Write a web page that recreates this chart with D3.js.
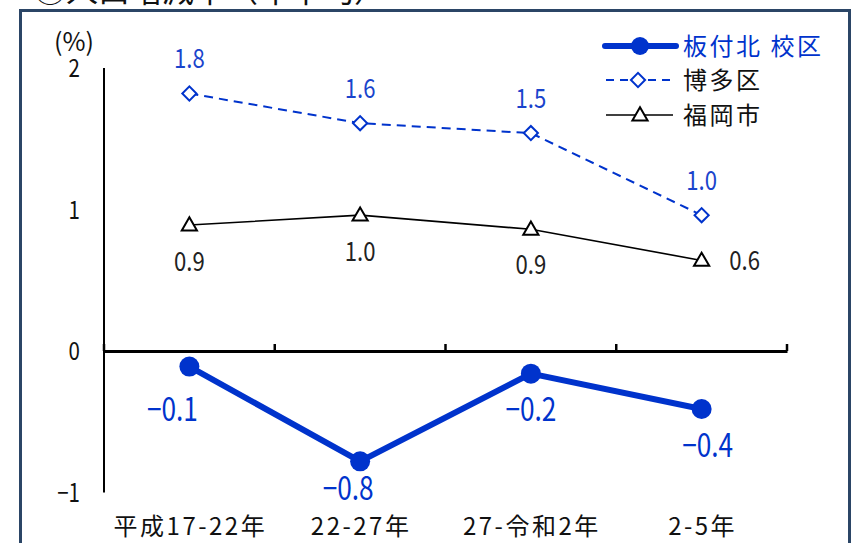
<!DOCTYPE html>
<html>
<head>
<meta charset="utf-8">
<script src="https://cdn.jsdelivr.net/npm/d3@7"></script>
<style>
  html, body { margin: 0; padding: 0; background: #fff; }
  svg { display: block; }
  text { font-family: "Noto Sans CJK JP", "Noto Sans", sans-serif; }
</style>
</head>
<body>
<div id="chart"></div>
<script>
// population growth rate (annual average), 3 series over 4 periods

const categories = ["平成17-22年", "22-27年", "27-令和2年", "2-5年"];
const seriesNames = ["板付北 校区", "博多区", "福岡市"];
const itazukeValues = [-0.11, -0.78, -0.16, -0.41];
const hakataValues = [1.82, 1.61, 1.54, 0.96];
const fukuokaValues = [0.89, 0.96, 0.86, 0.64];
const yTicks = [-1, 0, 1, 2];
const yUnit = "(%)";
const title = "③人口増減率（年平均）";

const W = 859, H = 543;
const blue = "#0033cc";
const narrow = 0.82; // digits in the original are condensed

const svg = d3.select("#chart").append("svg")
    .attr("width", W).attr("height", H);

// cut-off title and frame
svg.append("text")
    .attr("x", 34).attr("y", 2)
    .attr("font-size", 32)
    .attr("fill", "#111")
    .text(title);

svg.append("rect")
    .attr("x", 20.5).attr("y", 10.5)
    .attr("width", 829).attr("height", 600)
    .attr("fill", "#fff")
    .attr("stroke", "#2b4566")
    .attr("stroke-width", 3);

const x = d3.scaleBand().domain(categories).range([104, 787]);
const y = d3.scaleLinear().domain([-1, 2]).range([492.5, 68]);
const cx = d => x(d) + x.bandwidth() / 2;

// condensed number text at (px, py)
function numText(sel, px, py, size, color, anchor) {
    sel.attr("transform", (d, i) => `translate(${px(d, i)},${py(d, i)}) scale(${narrow},1)`)
        .attr("dy", "0.36em")
        .attr("text-anchor", anchor || "middle")
        .attr("font-size", size)
        .attr("fill", color);
}

// y axis line + labels
svg.append("line")
    .attr("x1", 104).attr("x2", 104)
    .attr("y1", y(2)).attr("y2", y(-1))
    .attr("stroke", "#000").attr("stroke-width", 2);

svg.append("g").selectAll("text")
    .data(yTicks)
    .join("text")
    .call(numText, () => 80, d => y(d), 25, "#111", "end")
    .text(d => d3.format("d")(d));

svg.append("text")
    .attr("x", 74).attr("y", 42)
    .attr("dy", "0.36em")
    .attr("text-anchor", "middle")
    .attr("font-size", 25)
    .attr("fill", "#111")
    .text(yUnit);

// x axis at zero, ticks pointing up
const xAxis = d3.axisTop(x).tickSize(0).tickFormat("");
const gx = svg.append("g").attr("transform", `translate(0,${y(0)})`).call(xAxis);
gx.select(".domain").attr("stroke", "#000").attr("stroke-width", 3);
const bounds = [104].concat(categories.map(c => x(c) + x.bandwidth()));
svg.append("g").selectAll("line")
    .data(bounds)
    .join("line")
    .attr("x1", d => d).attr("x2", d => d)
    .attr("y1", y(0) - 7).attr("y2", y(0))
    .attr("stroke", "#000").attr("stroke-width", 2.5);

svg.append("g").selectAll("text")
    .data(categories)
    .join("text")
    .attr("x", d => cx(d) + 1).attr("y", 535)
    .attr("text-anchor", "middle")
    .attr("font-size", 24)
    .attr("letter-spacing", 2.5)
    .attr("fill", "#111")
    .text(d => d);

const fmt = v => v.toFixed(1).replace("-", "\u2212");

// 福岡市: thin black line, triangles
const fukuoka = categories.map((c, i) => [cx(c), y(fukuokaValues[i])]);
svg.append("path")
    .attr("d", d3.line()(fukuoka))
    .attr("fill", "none").attr("stroke", "#000").attr("stroke-width", 1.6);
const tri = d3.symbol().type(d3.symbolTriangle).size(100);
svg.append("g").selectAll("path")
    .data(fukuoka)
    .join("path")
    .attr("d", tri)
    .attr("transform", d => `translate(${d[0]},${d[1] + 1})`)
    .attr("fill", "#fff").attr("stroke", "#000").attr("stroke-width", 2);
const fukOff = [[0, 36], [0, 36], [0, 35], [43, 0]];
svg.append("g").selectAll("text")
    .data(fukuokaValues)
    .join("text")
    .call(numText, (d, i) => fukuoka[i][0] + fukOff[i][0], (d, i) => fukuoka[i][1] + fukOff[i][1], 27, "#222")
    .text(fmt);

// 博多区: dashed blue, diamonds
const hakata = categories.map((c, i) => [cx(c), y(hakataValues[i])]);
svg.append("path")
    .attr("d", d3.line()(hakata))
    .attr("fill", "none").attr("stroke", blue)
    .attr("stroke-width", 2).attr("stroke-dasharray", "9,6");
svg.append("g").selectAll("rect")
    .data(hakata)
    .join("rect")
    .attr("x", -5).attr("y", -5).attr("width", 10).attr("height", 10)
    .attr("transform", d => `translate(${d[0]},${d[1]}) rotate(45)`)
    .attr("fill", "#fff").attr("stroke", blue).attr("stroke-width", 2);
svg.append("g").selectAll("text")
    .data(hakataValues)
    .join("text")
    .call(numText, (d, i) => hakata[i][0], (d, i) => hakata[i][1] - 35, 27, "#1a44cc")
    .text(fmt);

// 板付北 校区: thick blue, filled circles
const itazuke = categories.map((c, i) => [cx(c), y(itazukeValues[i])]);
svg.append("path")
    .attr("d", d3.line()(itazuke))
    .attr("fill", "none").attr("stroke", blue).attr("stroke-width", 6);
svg.append("g").selectAll("circle")
    .data(itazuke)
    .join("circle")
    .attr("cx", d => d[0]).attr("cy", d => d[1]).attr("r", 10)
    .attr("fill", blue);
const itaOff = [[-17, 43], [-12, 27], [0, 36], [6, 36]];
svg.append("g").selectAll("text")
    .data(itazukeValues)
    .join("text")
    .call(numText, (d, i) => itazuke[i][0] + itaOff[i][0], (d, i) => itazuke[i][1] + itaOff[i][1], 32, blue)
    .text(fmt);

// legend
const legend = svg.append("g");
const rows = [46, 80, 115];
seriesNames.forEach((name, i) => {
    const g = legend.append("g").attr("transform", `translate(0,${rows[i]})`);
    if (i === 0) {
        g.append("line").attr("x1", 605).attr("x2", 676)
            .attr("stroke", blue).attr("stroke-width", 6).attr("stroke-linecap", "round");
        g.append("circle").attr("cx", 640).attr("r", 9).attr("fill", blue);
    } else if (i === 1) {
        g.append("line").attr("x1", 606).attr("x2", 670)
            .attr("stroke", blue).attr("stroke-width", 2).attr("stroke-dasharray", "8,6");
        g.append("rect").attr("x", -5).attr("y", -5).attr("width", 10).attr("height", 10)
            .attr("transform", "translate(638,0) rotate(45)")
            .attr("fill", "#fff").attr("stroke", blue).attr("stroke-width", 2);
    } else {
        g.append("line").attr("x1", 606).attr("x2", 673)
            .attr("stroke", "#000").attr("stroke-width", 1.6);
        g.append("path").attr("d", tri).attr("transform", "translate(640,1)")
            .attr("fill", "#fff").attr("stroke", "#000").attr("stroke-width", 2);
    }
    g.append("text")
        .attr("x", 683).attr("dy", "0.36em")
        .attr("font-size", 24)
        .attr("letter-spacing", 2.5)
        .attr("fill", i === 0 ? blue : "#111")
        .text(name);
});
</script>
</body>
</html>
